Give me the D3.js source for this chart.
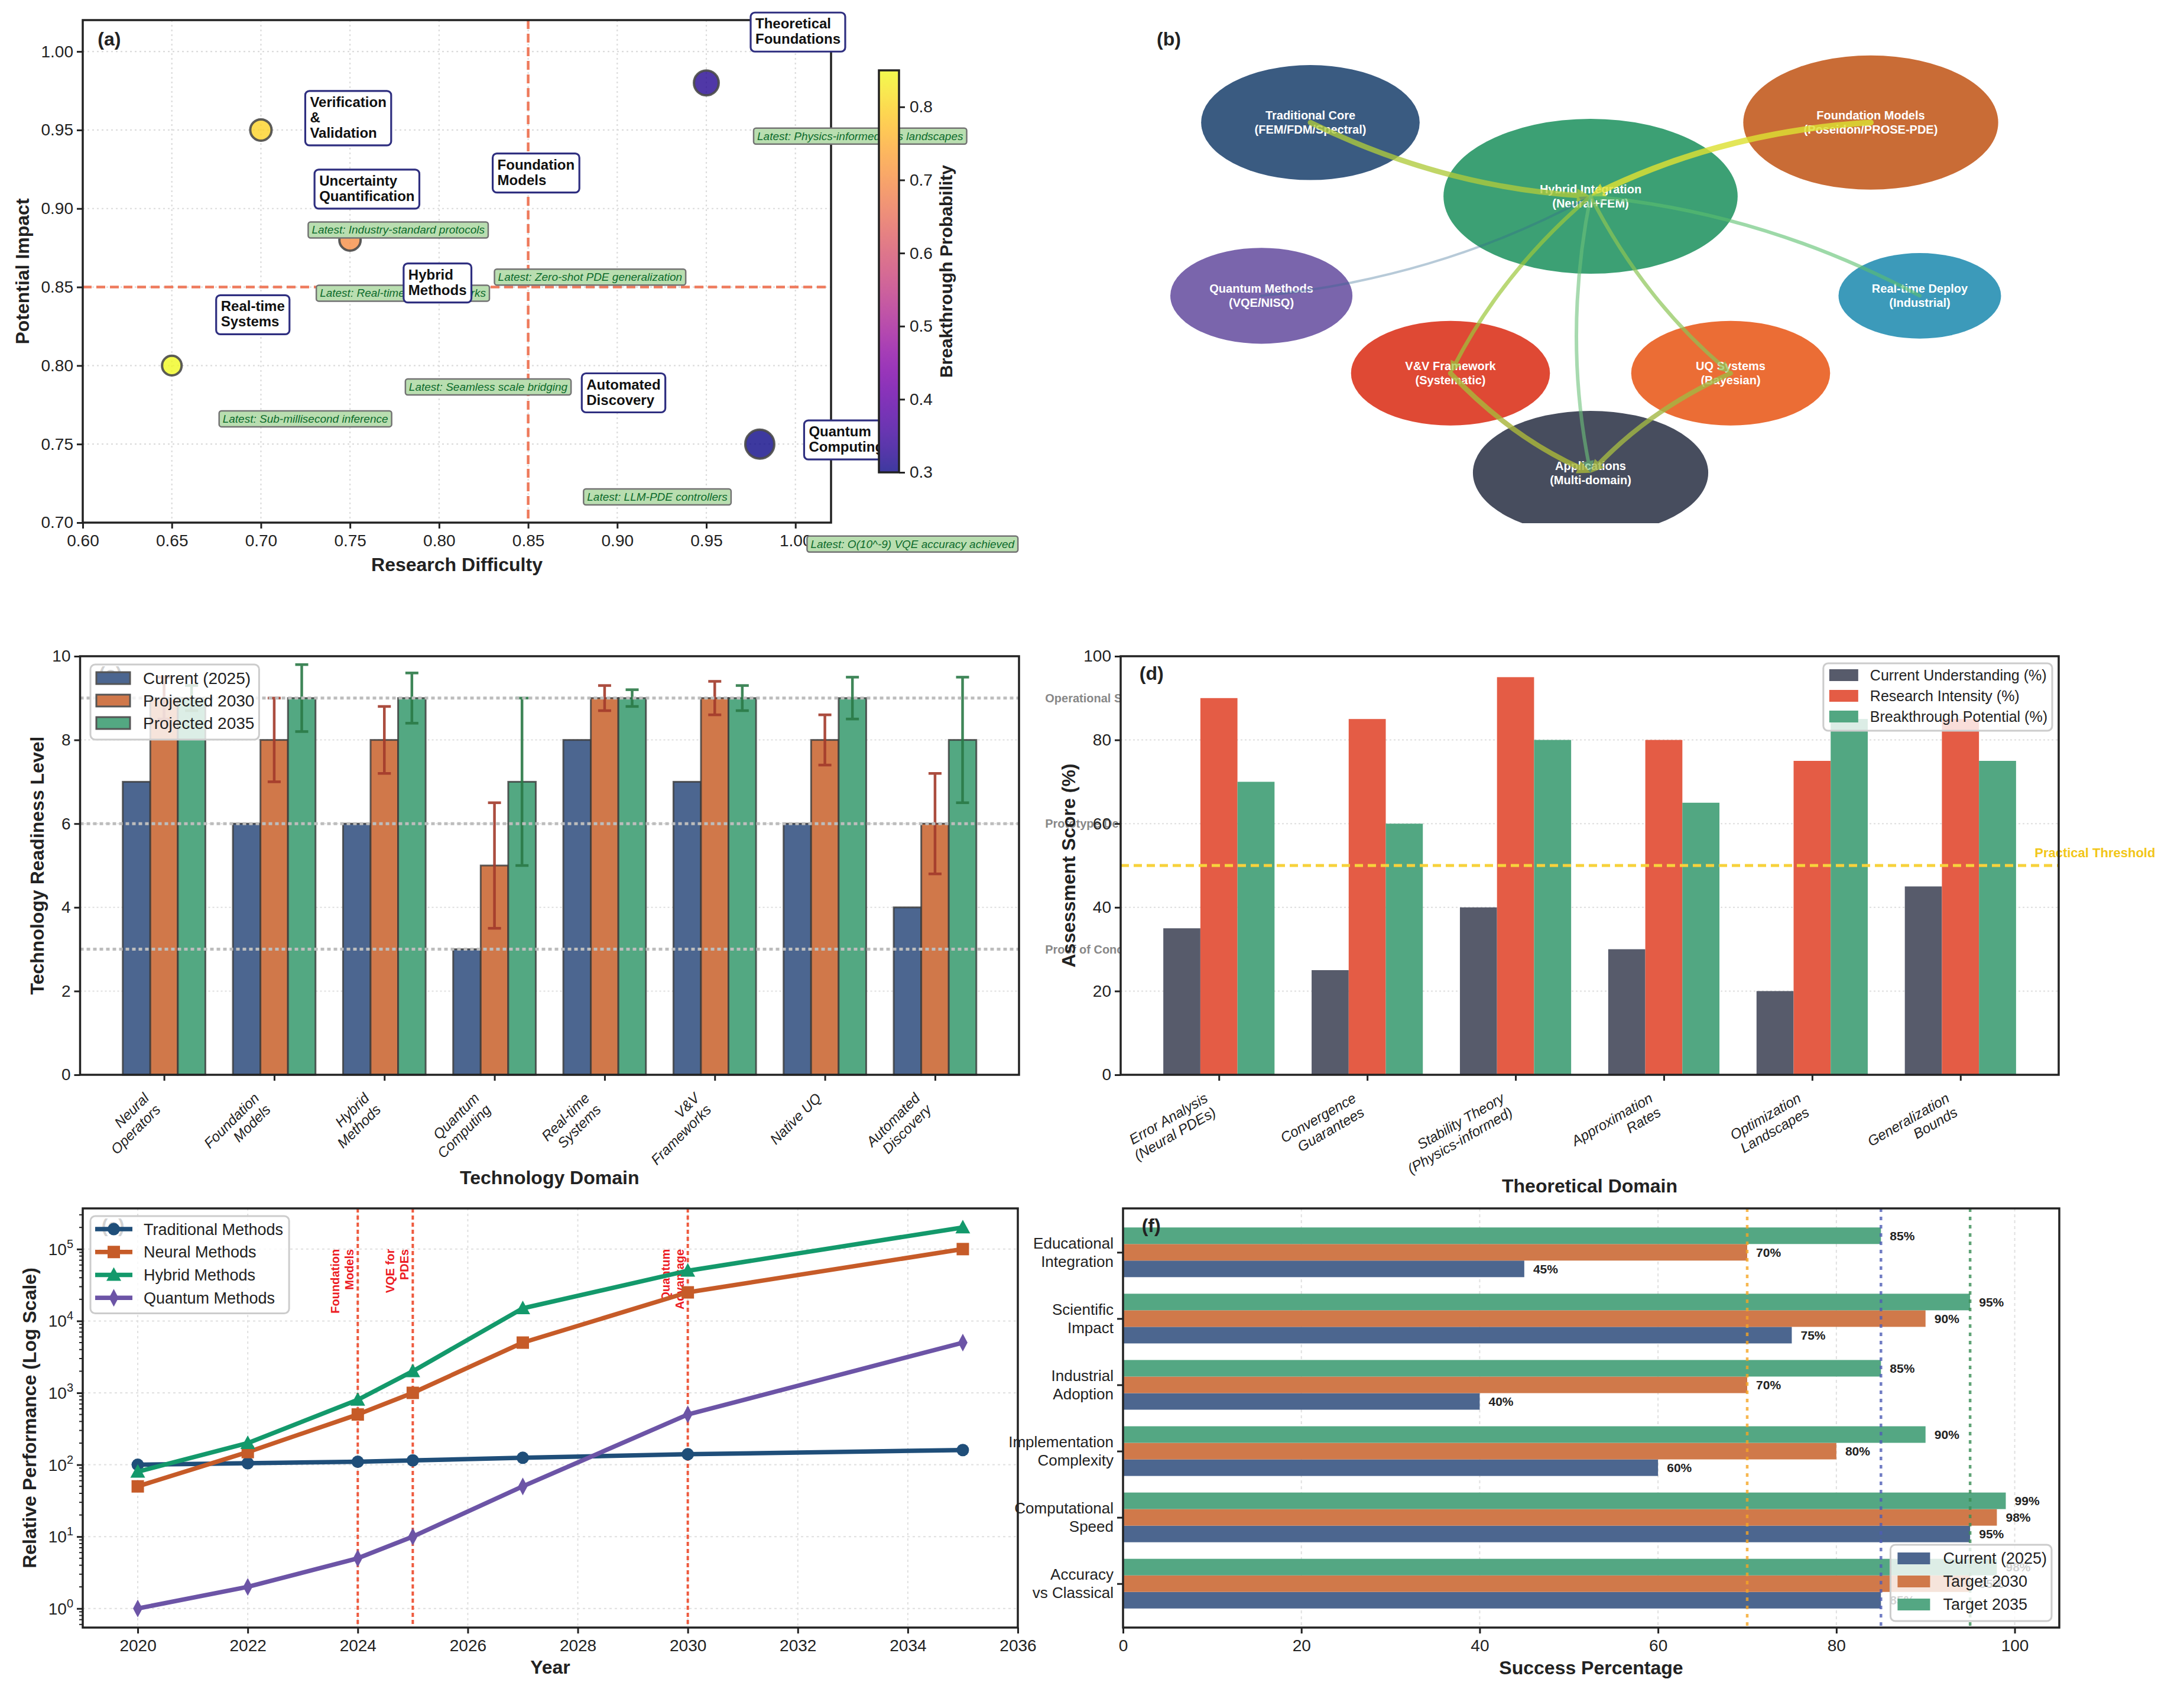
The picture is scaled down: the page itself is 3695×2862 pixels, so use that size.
<!DOCTYPE html>
<html><head><meta charset="utf-8">
<script src="https://cdnjs.cloudflare.com/ajax/libs/d3/7.8.5/d3.min.js"></script>
<style>body{margin:0;background:#fff}</style>
</head><body>
<script>
// ================= DATA =================
// Panel (a)
const techNames = ["Theoretical\nFoundations","Verification\n&\nValidation","Uncertainty\nQuantification","Foundation\nModels","Hybrid\nMethods","Real-time\nSystems","Automated\nDiscovery","Quantum\nComputing"];
const researchDifficulty = [0.95,0.70,0.75,0.85,0.80,0.65,0.90,0.98];
const potentialImpact = [0.98,0.95,0.88,0.92,0.85,0.80,0.78,0.75];
const breakthroughProb = [0.32,0.80,0.70,0.65,0.60,0.85,0.45,0.30];
const resourceNeed = [0.75,0.57,0.57,0.65,0.6,0.49,0.6,1.0];
const latestNotes = ["Latest: Physics-informed loss landscapes","Latest: Industry-standard protocols","Latest: Real-time UQ frameworks","Latest: Zero-shot PDE generalization","Latest: Seamless scale bridging","Latest: Sub-millisecond inference","Latest: LLM-PDE controllers","Latest: O(10^-9) VQE accuracy achieved"];
const labelSideX = [1,1,-1,-1,-1,1,-1,1];     // annotation side (right / left)
const labelSideY = [1,-1,1,-1,-1,1,-1,-1];    // annotation side (above / below)

// Panel (b)
const nodeLabels = ["Traditional Core\n(FEM/FDM/Spectral)","Foundation Models\n(Poseidon/PROSE-PDE)","Hybrid Integration\n(Neural+FEM)","Quantum Methods\n(VQE/NISQ)","Real-time Deploy\n(Industrial)","V&V Framework\n(Systematic)","UQ Systems\n(Bayesian)","Applications\n(Multi-domain)"];
const nodeLayoutX = [-2,2,0,-2.35,2.35,-1,1,0];
const nodeLayoutY = [1,1,0,-1.35,-1.35,-2.4,-2.4,-3.75];
const nodeImportance = [0.78,0.91,1.05,0.65,0.58,0.71,0.71,0.84];
const edgeSource = [0,1,3,4,2,2,2,5,6];
const edgeTarget = [2,2,2,2,5,6,7,7,7];
const edgeWeight = [0.9,1.0,0.4,0.6,0.65,0.62,0.6,0.85,0.8];

// Panel (c)
const techDomains = ["Neural\nOperators","Foundation\nModels","Hybrid\nMethods","Quantum\nComputing","Real-time\nSystems","V&V\nFrameworks","Native UQ","Automated\nDiscovery"];
const trlCurrent = [7,6,6,3,8,7,6,4];
const trl2030 = [9,8,8,5,9,9,8,6];
const trl2035 = [9,9,9,7,9,9,9,8];
const err2030 = [0.5,1.0,0.8,1.5,0.3,0.4,0.6,1.2];
const err2035 = [0.3,0.8,0.6,2.0,0.2,0.3,0.5,1.5];
const trlLevels = [3,6,9];
const trlLevelNames = ["Proof of Concept","Prototype Demo","Operational System"];

// Panel (d)
const theoryDomains = ["Error Analysis\n(Neural PDEs)","Convergence\nGuarantees","Stability Theory\n(Physics-informed)","Approximation\nRates","Optimization\nLandscapes","Generalization\nBounds"];
const currentUnderstanding = [35,25,40,30,20,45];
const researchIntensity = [90,85,95,80,75,85];
const breakthroughPotential = [70,60,80,65,85,75];
const practicalThreshold = 50;

// Panel (e)
const years = [2020,2022,2024,2025,2027,2030,2035];
const traditionalPerf = [100,105,110,115,125,140,160];
const neuralPerf = [50,150,500,1000,5000,25000,100000];
const hybridPerf = [80,200,800,2000,15000,50000,200000];
const quantumPerf = [1,2,5,10,50,500,5000];
const milestoneYears = [2024,2025,2030];
const milestoneLabels = ["Foundation\nModels","VQE for\nPDEs","Quantum\nAdvantage"];

// Panel (f)
const successMetrics = ["Accuracy\nvs Classical","Computational\nSpeed","Implementation\nComplexity","Industrial\nAdoption","Scientific\nImpact","Educational\nIntegration"];
const successCurrent = [85,95,60,40,75,45];
const successTarget2030 = [95,98,80,70,90,70];
const successTarget2035 = [98,99,90,85,95,85];
const targetLines = [70,85,95];

// ================= SETUP =================
const W = 3695, H = 2862;
const FONT = '"Liberation Sans", Arial, Helvetica, sans-serif';
const INK = "#222222";
const svg = d3.select("body").append("svg").attr("width",W).attr("height",H)
  .style("display","block").attr("font-family",FONT);
svg.append("rect").attr("width",W).attr("height",H).attr("fill","#fff");
const defs = svg.append("defs");

function axisStyle(sel, fs){
  sel.attr("font-size",fs).attr("font-family",FONT).attr("color",INK);
  sel.select(".domain").remove();
  sel.selectAll(".tick line").attr("stroke-width",3);
}
function spine(g, A){
  g.append("rect").attr("x",A.l).attr("y",A.t).attr("width",A.r-A.l).attr("height",A.b-A.t)
   .attr("fill","none").attr("stroke",INK).attr("stroke-width",3.5);
}
function vLabel(g, cx, cy, txt, fs){
  g.append("text").attr("transform",`translate(${cx},${cy}) rotate(-90)`).attr("text-anchor","middle")
   .attr("dominant-baseline","central").attr("font-size",fs).attr("font-weight","bold").attr("fill",INK).text(txt);
}
function hLabel(g, cx, by, txt, fs){
  g.append("text").attr("x",cx).attr("y",by).attr("text-anchor","middle").attr("font-size",fs)
   .attr("font-weight","bold").attr("fill",INK).text(txt);
}
function panelTag(g, A, txt){
  g.append("text").attr("x",A.l+0.02*(A.r-A.l)).attr("y",A.t+0.02*(A.b-A.t)+0.8*32)
   .attr("font-size",32).attr("font-weight","bold").attr("fill",INK).text(txt);
}
function rotLabel(g, x, top, lines, angle, fs, extra){
  const lh = fs*1.15, Hh = lines.length*lh, r = angle*Math.PI/180;
  const t = g.append("text").attr("transform",`translate(${x-Hh*Math.sin(r)},${top}) rotate(${-angle})`)
    .attr("text-anchor","end").attr("font-size",fs).attr("fill",INK);
  if(extra) extra(t);
  lines.forEach((s,i)=>t.append("tspan").attr("x",0).attr("y",i*lh+0.88*fs).text(s));
  return t;
}
function drawLegend(g, anchorX, y, items, o){
  const lg = g.append("g");
  const box = lg.append("rect").attr("rx",8).attr("fill","#fff").attr("fill-opacity",0.8)
    .attr("stroke","#cccccc").attr("stroke-width",3);
  let maxW = 0;
  items.forEach((it,i)=>{
    const cy = o.padT + o.rowH*(i+0.5);
    it.draw(lg, o.padL, cy, o.handleW);
    const t = lg.append("text").attr("x",o.padL+o.handleW+o.gap).attr("y",cy).attr("dy","0.35em")
      .attr("font-size",o.fs).attr("fill",INK).text(it.label);
    maxW = Math.max(maxW, t.node().getComputedTextLength());
  });
  const w = o.padL+o.handleW+o.gap+maxW+o.padR, h = o.padT+o.rowH*items.length+o.padB;
  box.attr("width",w).attr("height",h);
  const x = o.alignRight ? anchorX - w : anchorX;
  lg.attr("transform",`translate(${x},${y})`);
}
const patch = (fill, stroke) => (lg,x,cy,w)=>{
  const r = lg.append("rect").attr("x",x).attr("y",cy-10).attr("width",w).attr("height",20).attr("fill",fill);
  if(stroke) r.attr("stroke",stroke).attr("stroke-width",3);
};

// ================= PANEL (a) =================
(function(){
  const g = svg.append("g");
  const A = {l:140,r:1406,t:34,b:884};
  const x = d3.scaleLinear().domain([0.6,1.02]).range([A.l,A.r]);
  const y = d3.scaleLinear().domain([0.70,1.02]).range([A.b,A.t]);
  const xt = d3.range(9).map(i=>+(0.6+i*0.05).toFixed(2));
  const yt = d3.range(7).map(i=>+(0.7+i*0.05).toFixed(2));
  const cmapDomain = [0.3,0.85];
  const cnorm = d3.scaleLinear().domain(cmapDomain).range([0,1]).clamp(true);
  const size = d3.scaleSqrt().domain([0,1]).range([0,26.5]);

  g.selectAll(null).data(xt).join("line").attr("x1",d=>x(d)).attr("x2",d=>x(d)).attr("y1",A.t).attr("y2",A.b)
   .attr("stroke","#dcdcdc").attr("stroke-width",2.2).attr("stroke-dasharray","3,5");
  g.selectAll(null).data(yt).join("line").attr("y1",d=>y(d)).attr("y2",d=>y(d)).attr("x1",A.l).attr("x2",A.r)
   .attr("stroke","#dcdcdc").attr("stroke-width",2.2).attr("stroke-dasharray","3,5");
  g.append("line").attr("x1",x(0.85)).attr("x2",x(0.85)).attr("y1",A.t).attr("y2",A.b)
   .attr("stroke","#ee7a5c").attr("stroke-width",4.5).attr("stroke-dasharray","15,8");
  g.append("line").attr("y1",y(0.85)).attr("y2",y(0.85)).attr("x1",A.l).attr("x2",A.r)
   .attr("stroke","#ee7a5c").attr("stroke-width",4.5).attr("stroke-dasharray","15,8");

  // bubbles
  techNames.forEach((n,i)=>{
    g.append("circle").attr("cx",x(researchDifficulty[i])).attr("cy",y(potentialImpact[i]))
     .attr("r",size(resourceNeed[i])-2).attr("fill",d3.interpolatePlasma(cnorm(breakthroughProb[i])))
     .attr("fill-opacity",0.8).attr("stroke","#4a4a4a").attr("stroke-width",4).attr("stroke-opacity",0.9);
  });

  const gx = g.append("g").attr("transform",`translate(0,${A.b})`)
    .call(d3.axisBottom(x).tickValues(xt).tickFormat(d3.format(".2f")).tickSize(10).tickPadding(10));
  axisStyle(gx,28);
  const gy = g.append("g").attr("transform",`translate(${A.l},0)`)
    .call(d3.axisLeft(y).tickValues(yt).tickFormat(d3.format(".2f")).tickSize(10).tickPadding(6));
  axisStyle(gy,28);
  spine(g,A);
  panelTag(g,A,"(a)");
  hLabel(g,(A.l+A.r)/2,966,"Research Difficulty",32);
  vLabel(g,38,(A.t+A.b)/2,"Potential Impact",32);

  // latest notes
  techNames.forEach((n,i)=>{
    const px = x(researchDifficulty[i]), py = y(potentialImpact[i]);
    const L = px + (labelSideX[i]>0 ? 80 : -57);
    const cy = py + (labelSideY[i]>0 ? 90 : 169);
    const rect = g.append("rect");
    const t = g.append("text").attr("x",L+6).attr("y",cy+6.5).attr("font-size",19).attr("font-style","italic")
      .attr("fill","#0d6b2c").text(latestNotes[i]);
    const w = t.node().getComputedTextLength();
    rect.attr("x",L).attr("y",cy-13.5).attr("width",w+12).attr("height",27).attr("rx",4)
      .attr("fill","#b9deb0").attr("stroke","#737373").attr("stroke-width",2.5);
  });
  // name labels
  techNames.forEach((n,i)=>{
    const px = x(researchDifficulty[i]), py = y(potentialImpact[i]);
    const lines = n.split("\n");
    const L = px + (labelSideX[i]>0 ? 75 : -60);
    const B = py + (labelSideY[i]>0 ? -53 : 26);
    const lh = 26, hgt = lines.length*lh + 14;
    const rect = g.append("rect");
    const t = g.append("text").attr("font-size",24).attr("font-weight","bold").attr("fill","#111");
    let mw = 0;
    lines.forEach((s,k)=>{
      const ts = t.append("tspan").attr("x",L+8).attr("y",B-13-(lines.length-1-k)*lh).text(s);
      mw = Math.max(mw, ts.node().getComputedTextLength());
    });
    rect.attr("x",L).attr("y",B-hgt).attr("width",mw+16).attr("height",hgt).attr("rx",7)
      .attr("fill","#fff").attr("stroke","#2f2f80").attr("stroke-width",3.2);
  });

  // colorbar
  const CB = {l:1487,r:1521,t:119,b:799};
  const grad = defs.append("linearGradient").attr("id","plasmaGrad").attr("x1",0).attr("y1",1).attr("x2",0).attr("y2",0);
  d3.range(0,1.0001,0.05).forEach(t=>grad.append("stop").attr("offset",t).attr("stop-color",d3.interpolatePlasma(t)).attr("stop-opacity",0.8));
  g.append("rect").attr("x",CB.l).attr("y",CB.t).attr("width",CB.r-CB.l).attr("height",CB.b-CB.t).attr("fill","#fff");
  g.append("rect").attr("x",CB.l).attr("y",CB.t).attr("width",CB.r-CB.l).attr("height",CB.b-CB.t).attr("fill","url(#plasmaGrad)");
  const cy = d3.scaleLinear().domain(cmapDomain).range([CB.b,CB.t]);
  const gc = g.append("g").attr("transform",`translate(${CB.r},0)`)
    .call(d3.axisRight(cy).tickValues([0.3,0.4,0.5,0.6,0.7,0.8]).tickFormat(d3.format(".1f")).tickSize(10).tickPadding(8));
  axisStyle(gc,28);
  g.append("rect").attr("x",CB.l).attr("y",CB.t).attr("width",CB.r-CB.l).attr("height",CB.b-CB.t)
   .attr("fill","none").attr("stroke",INK).attr("stroke-width",3.5);
  vLabel(g,1600,(CB.t+CB.b)/2,"Breakthrough Probability",30);
})();

// ================= PANEL (b) =================
(function(){
  const g = svg.append("g");
  const cx0 = 2691, cy0 = 332, ux = 237, uy = 124.7;
  const x = d3.scaleLinear().domain([-3.5,3.5]).range([cx0-3.5*ux, cx0+3.5*ux]);
  const y = d3.scaleLinear().domain([-4.5,2]).range([cy0+4.5*uy, cy0-2*uy]);
  const nodeColors = ["#3a5b81","#c96c36","#3ca074","#7a65ac","#3c9aba","#df4934","#eb6d35","#474d5e"];
  defs.append("clipPath").attr("id","clipB").append("rect").attr("x",1860).attr("y",30).attr("width",1800).attr("height",855);
  const gc = g.append("g").attr("clip-path","url(#clipB)");
  nodeLabels.forEach((n,i)=>{
    gc.append("ellipse").attr("cx",x(nodeLayoutX[i])).attr("cy",y(nodeLayoutY[i]))
      .attr("rx",x(nodeImportance[i])-x(0)).attr("ry",y(0)-y(nodeImportance[i])).attr("fill",nodeColors[i]);
  });
  nodeLabels.forEach((n,i)=>{
    const lines = n.split("\n"), cx = x(nodeLayoutX[i]), cy = y(nodeLayoutY[i]);
    const t = gc.append("text").attr("text-anchor","middle").attr("font-size",20).attr("font-weight","bold").attr("fill","#fff");
    lines.forEach((s,k)=>t.append("tspan").attr("x",cx).attr("y",cy+(k-(lines.length-1)/2)*24+7).text(s));
  });
  const edgeColors = ["#b0cb3c","#dde133","#31688e","#5cbf6e","#9cc83c","#8cc556","#6cc27a","#a9b63a","#a3b843"];
  const edgeAlpha = [0.78,0.82,0.35,0.6,0.7,0.7,0.6,0.82,0.8];
  const f = 0.1;
  edgeSource.forEach((s,i)=>{
    const tI = edgeTarget[i];
    const x1 = x(nodeLayoutX[s]), y1 = y(nodeLayoutY[s]), x2 = x(nodeLayoutX[tI]), y2 = y(nodeLayoutY[tI]);
    const DX = x2-x1, DY = y2-y1;
    const cx = (x1+x2)/2 - f*DY, cy = (y1+y2)/2 + f*DX;
    const w = edgeWeight[i]*10;
    let ux2 = x2-cx, uy2 = y2-cy; const ln = Math.hypot(ux2,uy2); ux2/=ln; uy2/=ln;
    const aL = 14 + w, aW = 6 + w*0.6;
    const ex = x2 - ux2*aL*0.6, ey = y2 - uy2*aL*0.6;
    const eg = gc.append("g").attr("opacity",edgeAlpha[i]);
    eg.append("path").attr("d",`M${x1},${y1} Q${cx},${cy} ${ex},${ey}`).attr("fill","none")
      .attr("stroke",edgeColors[i]).attr("stroke-width",w).attr("stroke-linecap","round");
    const bx = x2 - ux2*aL, by = y2 - uy2*aL;
    eg.append("path").attr("d",`M${x2},${y2} L${bx - uy2*aW},${by + ux2*aW} L${bx + uy2*aW},${by - ux2*aW} Z`)
      .attr("fill",edgeColors[i]);
  });
  g.append("text").attr("x",1957).attr("y",51+0.8*32).attr("font-size",32).attr("font-weight","bold").attr("fill",INK).text("(b)");
})();

// ================= PANEL (c) =================
(function(){
  const g = svg.append("g");
  const A = {l:135.5,r:1724,t:1110,b:1818};
  const x = d3.scaleLinear().domain([-0.7625,7.7625]).range([A.l,A.r]);
  const y = d3.scaleLinear().domain([0,10]).range([A.b,A.t]);
  const bw = 0.25;
  g.selectAll(null).data([2,4,6,8]).join("line").attr("x1",A.l).attr("x2",A.r).attr("y1",d=>y(d)).attr("y2",d=>y(d))
    .attr("stroke","#dedede").attr("stroke-width",2).attr("stroke-dasharray","3,4");
  const series = [
    {vals:trlCurrent, color:"#4c6690", off:-1, label:"Current (2025)"},
    {vals:trl2030, err:err2030, color:"#d0784a", ecolor:"#a33a2b", off:0, label:"Projected 2030"},
    {vals:trl2035, err:err2035, color:"#53a882", ecolor:"#2b7a47", off:1, label:"Projected 2035"}];
  series.forEach(s=>{
    s.vals.forEach((v,i)=>{
      const c = i + s.off*bw;
      g.append("rect").attr("x",x(c-bw/2)).attr("width",x(bw)-x(0)).attr("y",y(v)).attr("height",y(0)-y(v))
        .attr("fill",s.color).attr("stroke","#3a3a3a").attr("stroke-opacity",0.8).attr("stroke-width",3);
    });
    if(s.err){
      s.vals.forEach((v,i)=>{
        const cx = x(i + s.off*bw), e = s.err[i];
        const eg = g.append("g").attr("stroke",s.ecolor).attr("stroke-width",4.5).attr("opacity",0.9);
        eg.append("line").attr("x1",cx).attr("x2",cx).attr("y1",y(v-e)).attr("y2",y(v+e));
        [v-e,v+e].forEach(yy=>eg.append("line").attr("x1",cx-11).attr("x2",cx+11).attr("y1",y(yy)).attr("y2",y(yy)));
      });
    }
  });
  trlLevels.forEach((lv,i)=>{
    g.append("line").attr("x1",A.l).attr("x2",A.r).attr("y1",y(lv)).attr("y2",y(lv))
      .attr("stroke","#bdbdbd").attr("stroke-width",5).attr("stroke-dasharray","6,5");
    g.append("text").attr("x",x(8.0)).attr("y",y(lv)).attr("dy","0.35em").attr("font-size",20).attr("font-weight","bold")
      .attr("fill","#888").text(trlLevelNames[i]);
  });
  const gx = g.append("g").attr("transform",`translate(0,${A.b})`)
    .call(d3.axisBottom(x).tickValues(d3.range(8)).tickFormat("").tickSize(10));
  axisStyle(gx,28);
  techDomains.forEach((n,i)=>rotLabel(g,x(i),A.b+26,n.split("\n"),45,24,t=>t.attr("font-style","italic")));
  const gy = g.append("g").attr("transform",`translate(${A.l},0)`)
    .call(d3.axisLeft(y).tickValues([0,2,4,6,8,10]).tickSize(10).tickPadding(6));
  axisStyle(gy,28);
  spine(g,A);
  panelTag(g,A,"(c)");
  hLabel(g,(A.l+A.r)/2,2003,"Technology Domain",32);
  vLabel(g,63,(A.t+A.b)/2,"Technology Readiness Level",32);
  drawLegend(g,153,1124,series.map(s=>({label:s.label,draw:patch(s.color,"#555")})),
    {fs:28,rowH:38,padT:4,padB:9,padL:10,handleW:57,gap:22,padR:8});
})();

// ================= PANEL (d) =================
(function(){
  const g = svg.append("g");
  const A = {l:1896,r:3483,t:1110,b:1818};
  g.append("rect").attr("x",A.l).attr("y",A.t).attr("width",A.r-A.l).attr("height",A.b-A.t).attr("fill","#fff");
  const x = d3.scaleLinear().domain([-0.6625,5.6625]).range([A.l,A.r]);
  const y = d3.scaleLinear().domain([0,100]).range([A.b,A.t]);
  const bw = 0.25;
  g.selectAll(null).data([20,40,60,80]).join("line").attr("x1",A.l).attr("x2",A.r).attr("y1",d=>y(d)).attr("y2",d=>y(d))
    .attr("stroke","#dedede").attr("stroke-width",2).attr("stroke-dasharray","3,4");
  const series = [
    {vals:currentUnderstanding,color:"#575b6b",off:-1,label:"Current Understanding (%)"},
    {vals:researchIntensity,color:"#e45c45",off:0,label:"Research Intensity (%)"},
    {vals:breakthroughPotential,color:"#52a782",off:1,label:"Breakthrough Potential (%)"}];
  series.forEach(s=>s.vals.forEach((v,i)=>{
    const c = i + s.off*bw;
    g.append("rect").attr("x",x(c-bw/2)).attr("width",x(bw)-x(0)).attr("y",y(v)).attr("height",y(0)-y(v)).attr("fill",s.color);
  }));
  g.append("line").attr("x1",A.l).attr("x2",A.r).attr("y1",y(practicalThreshold)).attr("y2",y(practicalThreshold))
    .attr("stroke","#f7d23c").attr("stroke-width",5).attr("stroke-dasharray","14,8");
  g.append("text").attr("x",x(5.5)).attr("y",y(practicalThreshold+2)).attr("font-size",22).attr("font-weight","bold")
    .attr("fill","#f2c619").text("Practical Threshold");
  const gx = g.append("g").attr("transform",`translate(0,${A.b})`)
    .call(d3.axisBottom(x).tickValues(d3.range(6)).tickFormat("").tickSize(10));
  axisStyle(gx,28);
  theoryDomains.forEach((n,i)=>rotLabel(g,x(i),A.b+26,n.split("\n"),30,24,t=>t.attr("font-style","italic")));
  const gy = g.append("g").attr("transform",`translate(${A.l},0)`)
    .call(d3.axisLeft(y).tickValues([0,20,40,60,80,100]).tickSize(10).tickPadding(6));
  axisStyle(gy,28);
  spine(g,A);
  panelTag(g,A,"(d)");
  hLabel(g,(A.l+A.r)/2,2017,"Theoretical Domain",32);
  vLabel(g,1808,(A.t+A.b)/2,"Assessment Score (%)",32);
  drawLegend(g,3472,1122,series.map(s=>({label:s.label,draw:patch(s.color)})),
    {fs:25,rowH:35,padT:2.5,padB:6.5,padL:10,handleW:49,gap:20,padR:8,alignRight:true});
})();

// ================= PANEL (e) =================
(function(){
  const g = svg.append("g");
  const A = {l:140,r:1722,t:2044,b:2753};
  const x = d3.scaleLinear().domain([2019,2036]).range([A.l,A.r]);
  const y = d3.scaleLog().domain([Math.pow(10,-0.265),Math.pow(10,5.566)]).range([A.b,A.t]);
  const xt = d3.range(2020,2037,2), yt = [1,10,100,1e3,1e4,1e5];
  g.selectAll(null).data(xt).join("line").attr("x1",d=>x(d)).attr("x2",d=>x(d)).attr("y1",A.t).attr("y2",A.b)
    .attr("stroke","#e0e0e0").attr("stroke-width",2).attr("stroke-dasharray","4,5");
  g.selectAll(null).data(yt).join("line").attr("x1",A.l).attr("x2",A.r).attr("y1",d=>y(d)).attr("y2",d=>y(d))
    .attr("stroke","#e0e0e0").attr("stroke-width",2).attr("stroke-dasharray","4,5");
  milestoneYears.forEach((yr,i)=>{
    g.append("line").attr("x1",x(yr)).attr("x2",x(yr)).attr("y1",A.t).attr("y2",A.b)
      .attr("stroke","#ee5a3e").attr("stroke-width",4).attr("stroke-dasharray","7,5");
    const lines = milestoneLabels[i].split("\n"), fs = 20, lh = 24, Hh = lines.length*lh;
    const t = g.append("text").attr("transform",`translate(${x(yr)-Hh},${y(1e5)}) rotate(-90)`)
      .attr("text-anchor","end").attr("font-size",fs).attr("font-weight","bold").attr("fill","#ec1c24");
    lines.forEach((s,k)=>t.append("tspan").attr("x",0).attr("y",k*lh+0.85*fs).text(s));
  });
  const markers = {
    circle:(g,cx,cy,c)=>g.append("circle").attr("cx",cx).attr("cy",cy).attr("r",10.5).attr("fill",c),
    square:(g,cx,cy,c)=>g.append("rect").attr("x",cx-10.5).attr("y",cy-10.5).attr("width",21).attr("height",21).attr("fill",c),
    triangle:(g,cx,cy,c)=>g.append("path").attr("d",`M${cx},${cy-13} L${cx+12.5},${cy+10} L${cx-12.5},${cy+10} Z`).attr("fill",c),
    diamond:(g,cx,cy,c)=>g.append("path").attr("d",`M${cx},${cy-15} L${cx+8},${cy} L${cx},${cy+15} L${cx-8},${cy} Z`).attr("fill",c)
  };
  const series = [
    {vals:traditionalPerf,color:"#1f4e79",m:"circle",label:"Traditional Methods"},
    {vals:neuralPerf,color:"#c65b28",m:"square",label:"Neural Methods"},
    {vals:hybridPerf,color:"#13996b",m:"triangle",label:"Hybrid Methods"},
    {vals:quantumPerf,color:"#6c54a6",m:"diamond",label:"Quantum Methods"}];
  const line = d3.line().x((d,i)=>x(years[i])).y(d=>y(d));
  series.forEach(s=>{
    g.append("path").attr("d",line(s.vals)).attr("fill","none").attr("stroke",s.color).attr("stroke-width",7.5).attr("stroke-linejoin","round");
    s.vals.forEach((v,i)=>markers[s.m](g,x(years[i]),y(v),s.color));
  });
  const gx = g.append("g").attr("transform",`translate(0,${A.b})`)
    .call(d3.axisBottom(x).tickValues(xt).tickFormat(d3.format("d")).tickSize(10).tickPadding(10));
  axisStyle(gx,28);
  const gy = g.append("g").attr("transform",`translate(${A.l},0)`)
    .call(d3.axisLeft(y).tickValues(yt).tickFormat("").tickSize(10));
  axisStyle(gy,28);
  const minor = [];
  for(let k=-1;k<=5;k++) for(let m=2;m<=9;m++){ const v=m*Math.pow(10,k); if(v>=y.domain()[0]&&v<=y.domain()[1]) minor.push(v); }
  g.selectAll(null).data(minor).join("line").attr("x1",A.l-6).attr("x2",A.l).attr("y1",d=>y(d)).attr("y2",d=>y(d))
    .attr("stroke",INK).attr("stroke-width",2);
  yt.forEach(v=>{
    const t = g.append("text").attr("x",A.l-16).attr("y",y(v)+10).attr("text-anchor","end").attr("font-size",28).attr("fill",INK);
    t.append("tspan").text("10");
    t.append("tspan").attr("font-size",20).attr("dy",-12).text(Math.round(Math.log10(v)));
  });
  spine(g,A);
  panelTag(g,A,"(e)");
  hLabel(g,(A.l+A.r)/2,2831,"Year",32);
  vLabel(g,50,(A.t+A.b)/2,"Relative Performance (Log Scale)",32);
  drawLegend(g,153,2057,series.map(s=>({label:s.label,draw:(lg,x0,cy,w)=>{
      lg.append("line").attr("x1",x0).attr("x2",x0+w).attr("y1",cy).attr("y2",cy).attr("stroke",s.color).attr("stroke-width",7.5);
      markers[s.m](lg,x0+w/2,cy,s.color);}})),
    {fs:27,rowH:38.7,padT:2.7,padB:7,padL:8,handleW:63,gap:19,padR:10});
})();

// ================= PANEL (f) =================
(function(){
  const g = svg.append("g");
  const A = {l:1900,r:3484,t:2044,b:2753};
  const x = d3.scaleLinear().domain([0,105]).range([A.l,A.r]);
  const y = d3.scaleLinear().domain([-0.6625,5.6625]).range([A.b,A.t]);
  const bh = 0.25;
  g.selectAll(null).data([20,40,60,80,100]).join("line").attr("x1",d=>x(d)).attr("x2",d=>x(d)).attr("y1",A.t).attr("y2",A.b)
    .attr("stroke","#e0e0e0").attr("stroke-width",2).attr("stroke-dasharray","5,5");
  const series = [
    {vals:successCurrent,color:"#4c668f",off:-1,label:"Current (2025)"},
    {vals:successTarget2030,color:"#d0794a",off:0,label:"Target 2030"},
    {vals:successTarget2035,color:"#54a783",off:1,label:"Target 2035"}];
  series.forEach(s=>s.vals.forEach((v,i)=>{
    const c = i + s.off*bh;
    g.append("rect").attr("x",x(0)).attr("width",x(v)-x(0)).attr("y",y(c+bh/2)).attr("height",y(c-bh/2)-y(c+bh/2)).attr("fill",s.color);
  }));
  const tlColors = ["#f5a524","#4d5db5","#3a8d55"];
  targetLines.forEach((v,i)=>g.append("line").attr("x1",x(v)).attr("x2",x(v)).attr("y1",A.t).attr("y2",A.b)
    .attr("stroke",tlColors[i]).attr("stroke-opacity",0.8).attr("stroke-width",4.5).attr("stroke-dasharray","6,8"));
  series.forEach(s=>s.vals.forEach((v,i)=>{
    g.append("text").attr("x",x(v+1)).attr("y",y(i+s.off*bh)).attr("dy","0.35em").attr("font-size",21)
      .attr("font-weight","bold").attr("fill",INK).text(v+"%");
  }));
  const gx = g.append("g").attr("transform",`translate(0,${A.b})`)
    .call(d3.axisBottom(x).tickValues([0,20,40,60,80,100]).tickSize(10).tickPadding(10));
  axisStyle(gx,28);
  const gy = g.append("g").attr("transform",`translate(${A.l},0)`)
    .call(d3.axisLeft(y).tickValues(d3.range(6)).tickFormat("").tickSize(10));
  axisStyle(gy,28);
  successMetrics.forEach((n,i)=>{
    const lines = n.split("\n"), lh = 31;
    const t = g.append("text").attr("text-anchor","end").attr("font-size",26).attr("fill",INK);
    lines.forEach((s,k)=>t.append("tspan").attr("x",A.l-16).attr("y",y(i)+(k-(lines.length-1)/2)*lh+9).text(s));
  });
  spine(g,A);
  panelTag(g,A,"(f)");
  hLabel(g,(A.l+A.r)/2,2832,"Success Percentage",32);
  drawLegend(g,3471,2613,series.map(s=>({label:s.label,draw:patch(s.color)})),
    {fs:27,rowH:39,padT:3.5,padB:8.5,padL:12,handleW:55,gap:22,padR:8,alignRight:true});
})();
</script>
</body></html>
